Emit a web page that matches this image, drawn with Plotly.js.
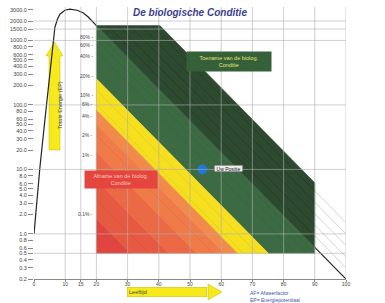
<!DOCTYPE html>
<html><head><meta charset="utf-8">
<script src="https://cdn.plot.ly/plotly-3.0.1.min.js"></script>
<style>html,body{margin:0;padding:0;background:#fff}#chart{width:385px;height:303px}</style>
</head><body><div id="chart"></div>
<script>
// ---- data ----
const ageCurve    = [0, 1.9, 3.5, 5.1, 6.0, 6.7, 7.5, 8.3, 9.9, 11.5, 13.8, 15.7, 17.3, 18.6, 20, 100];
const energyCurve = [1, 10.8, 59, 325, 900, 1600, 2130, 2550, 2940, 3050, 2940, 2690, 2330, 2020, 1700, 0.2];
const lifeLineAges   = [20, 100];
const lifeLineEnergy = [1700, 0.2];
const bandAges   = [20, 90];
const bandEnergy = [0.5, 1700];
const bandBounds = [10, 1, 0.15, 0.049, 0.03, 0.011, 0.004, 0.001, 0.000001];
const bandColors = ['#2d4a31', '#3c6a43', '#f5df1f', '#f28a4c', '#f07b48', '#eb6944', '#e75a41', '#e1453f'];
const darkStripes = [7.5, 5, 3.3, 2.2, 1.5];
const bandStripes = [0.8, 0.6, 0.4, 0.1, 0.06, 0.02, 0.002];
const pctValues = [0.8, 0.6, 0.4, 0.2, 0.1, 0.06, 0.04, 0.02, 0.01, 0.001];
const pctLabels = ['80%', '60%', '40%', '20%', '10%', '6%', '4%', '2%', '1%', '0.1%'];
const yTickVals = [0.2,0.3,0.4,0.5,0.6,0.8,1,2,3,4,5,6,8,10,20,30,40,50,60,80,100,200,300,400,500,600,800,1000,1500,2000,3000];
const xTickVals = [0,10,15,20,30,40,50,60,70,80,90,100];
const xTickText = ['0','10','15','20','30','40','50','60','70','80','90','100'];
const gridX = [10,15,20,30,40,50,60,70,80,90,100];
const gridY = [2000,1500,1000,100,10,1,0.5];
const positionAge = [54];
const positionEnergy = [10];

// ---- geometry helpers ----
const L = Math.log10;
const yRange = [L(0.2), L(0.2) + 272/64.5];
const U20 = L(lifeLineEnergy[0]);
const slope = (L(lifeLineEnergy[0]) - L(lifeLineEnergy[1])) / (lifeLineAges[1] - lifeLineAges[0]);
const life = x => U20 - slope * (x - lifeLineAges[0]);
const paperY = v => (L(v) - yRange[0]) / (yRange[1] - yRange[0]);
const px2x = px => (px - 34) / 312;
const py2y = py => (279 - py) / 272;

function clip(poly, fn) {
  const out = [];
  for (let i = 0; i < poly.length; i++) {
    const cur = poly[i], prev = poly[(i - 1 + poly.length) % poly.length];
    const fc = fn(cur), fp = fn(prev);
    const inter = () => { const t = fp / (fp - fc); return [prev[0] + t*(cur[0]-prev[0]), prev[1] + t*(cur[1]-prev[1])]; };
    if (fc >= 0) { if (fp < 0) out.push(inter()); out.push(cur); }
    else if (fp >= 0) out.push(inter());
  }
  return out;
}

const traces = [];
traces.push({x: ageCurve, y: energyCurve, mode: 'lines', line: {color: '#222', width: 1.2}, hoverinfo: 'skip'});

const rect = [[bandAges[0], L(bandEnergy[0])], [bandAges[1], L(bandEnergy[0])], [bandAges[1], L(bandEnergy[1])], [bandAges[0], L(bandEnergy[1])]];
for (let i = 0; i < bandColors.length; i++) {
  const hi = L(bandBounds[i]), lo = L(bandBounds[i+1]);
  let p = clip(rect, q => hi + life(q[0]) - q[1]);
  p = clip(p, q => q[1] - (lo + life(q[0])));
  if (!p.length) continue;
  p.push(p[0]);
  traces.push({x: p.map(q => q[0]), y: p.map(q => Math.pow(10, q[1])), mode: 'lines', fill: 'toself',
    fillcolor: bandColors[i], line: {color: bandColors[i], width: 0.5}, hoverinfo: 'skip'});
}

function stripeTrace(fracs, xMax, vBot, color) {
  const xs = [], ys = [];
  const uTop = L(bandEnergy[1]), uBot = L(vBot);
  fracs.forEach(f => {
    const lf = L(f);
    const x0 = Math.max(bandAges[0], lifeLineAges[0] + (lf + U20 - uTop) / slope);
    const x1 = Math.min(xMax, lifeLineAges[0] + (lf + U20 - uBot) / slope);
    if (x1 > x0) {
      xs.push(x0, x1, null);
      ys.push(Math.pow(10, lf + life(x0)), Math.pow(10, lf + life(x1)), null);
    }
  });
  return {x: xs, y: ys, mode: 'lines', line: {color: color, width: 0.8}, hoverinfo: 'skip', connectgaps: false};
}
traces.push(stripeTrace(darkStripes, 100, 0.2, 'rgba(0,0,0,0.22)'));
traces.push(stripeTrace(bandStripes, bandAges[1], bandEnergy[0], 'rgba(0,0,0,0.08)'));

traces.push({x: positionAge, y: positionEnergy, mode: 'markers', marker: {color: '#1f78d6', size: 10}, hoverinfo: 'skip'});

// ---- shapes ----
const shapes = [];
gridX.forEach(v => shapes.push({type: 'line', xref: 'x', yref: 'paper', x0: v, x1: v, y0: 0, y1: 1, layer: 'above', line: {color: 'rgba(175,175,175,0.6)', width: 1}}));
gridY.forEach(v => shapes.push({type: 'line', xref: 'paper', yref: 'paper', x0: 0, x1: 1, y0: paperY(v), y1: paperY(v), layer: 'above', line: {color: 'rgba(175,175,175,0.6)', width: 1}}));

const pathOf = pts => 'M ' + pts.map(p => px2x(p[0]).toFixed(5) + ',' + py2y(p[1]).toFixed(5)).join(' L ') + ' Z';
// up arrow (y title)
const upArrow = [[49,150],[49,56],[46,56],[54.5,42],[63,56],[60,56],[60,150]];
shapes.push({type: 'path', xref: 'paper', yref: 'paper', layer: 'below', path: pathOf(upArrow),
  fillcolor: '#f7ea1c', line: {color: '#c9b800', width: 0.5}});
// right arrow head (body is the "Leeftijd" label box)
const rightHead = [[208,284],[222,292],[208,300]];
shapes.push({type: 'path', xref: 'paper', yref: 'paper', layer: 'above', path: pathOf(rightHead),
  fillcolor: '#f7ea1c', line: {color: '#c9b800', width: 0.5}});

// ---- annotations ----
const F = 'Liberation Sans, Arial, sans-serif';
const ann = [];
pctValues.forEach((v, i) => ann.push({xref: 'x', yref: 'paper', x: bandAges[0], y: paperY(v * lifeLineEnergy[0]),
  text: pctLabels[i] + ' -', showarrow: false, xanchor: 'right', xshift: -1, font: {family: F, size: 5, color: '#444'}}));
ann.push({xref: 'paper', yref: 'paper', x: px2x(272), y: py2y(51), width: 84, height: 19, borderpad: 0,
  text: 'Toename van de biolog.<br>Conditie', showarrow: false, bgcolor: '#35603a', font: {family: F, size: 5.5, color: '#e2e46a'}});
ann.push({xref: 'paper', yref: 'paper', x: px2x(84), y: py2y(179), width: 72, height: 17, borderpad: 0,
  text: 'Afname van de biolog.<br>Conditie', showarrow: false, bgcolor: '#e4463f', font: {family: F, size: 5.5, color: '#f8cabe'}});
ann.push({xref: 'paper', yref: 'paper', x: px2x(228), y: py2y(168), width: 28, height: 6, borderpad: 0,
  text: 'Uw Positie', showarrow: false, bgcolor: '#ececec', bordercolor: '#666', borderwidth: 0.5, font: {family: F, size: 5, color: '#222'}});
ann.push({xref: 'paper', yref: 'paper', x: px2x(55), y: py2y(105), textangle: -90,
  text: 'Totale Energie (EP)', showarrow: false, font: {family: F, size: 5.5, color: '#444'}});
ann.push({xref: 'paper', yref: 'paper', x: px2x(127), y: py2y(292), xanchor: 'left', yanchor: 'middle',
  width: 79, height: 9, borderpad: 0, align: 'left', bgcolor: '#f7ea1c', bordercolor: '#c9b800', borderwidth: 0.5,
  text: ' Leeftijd', showarrow: false, font: {family: F, size: 5.5, color: '#444'}});
ann.push({xref: 'paper', yref: 'paper', x: px2x(249), y: py2y(289), yanchor: 'top', xanchor: 'left', align: 'left', borderpad: 0,
  text: 'AF= Afweerfactor<br>EP= Energiepotentiaal', showarrow: false, font: {family: F, size: 5, color: '#3b58a8'}});

const layout = {
  width: 385, height: 303,
  margin: {l: 34, r: 39, t: 7, b: 24},
  paper_bgcolor: '#fff', plot_bgcolor: '#fff',
  showlegend: false,
  title: {text: '<b><i>De biologische Conditie</i></b>', x: px2x(190), xref: 'paper', y: 1 - 12/303, yanchor: 'middle', xanchor: 'center',
    font: {family: F, size: 10, color: '#3d3f8f'}},
  xaxis: {range: [0, 100], showgrid: false, zeroline: false, showline: true, linecolor: '#888', linewidth: 1,
    ticks: 'outside', ticklen: 2, tickcolor: '#888', tickvals: xTickVals, ticktext: xTickText, ticklabelstandoff: -2,
    tickfont: {family: F, size: 5, color: '#444'}},
  yaxis: {type: 'log', range: yRange, showgrid: false, zeroline: false, showline: false,
    ticks: 'outside', ticklen: 5, tickcolor: '#888', tickvals: yTickVals, ticktext: yTickVals.map(v => v.toFixed(1)),
    tickfont: {family: F, size: 5.5, color: '#444'}},
  shapes: shapes, annotations: ann
};
Plotly.newPlot('chart', traces, layout, {staticPlot: true, displayModeBar: false});
</script></body></html>
